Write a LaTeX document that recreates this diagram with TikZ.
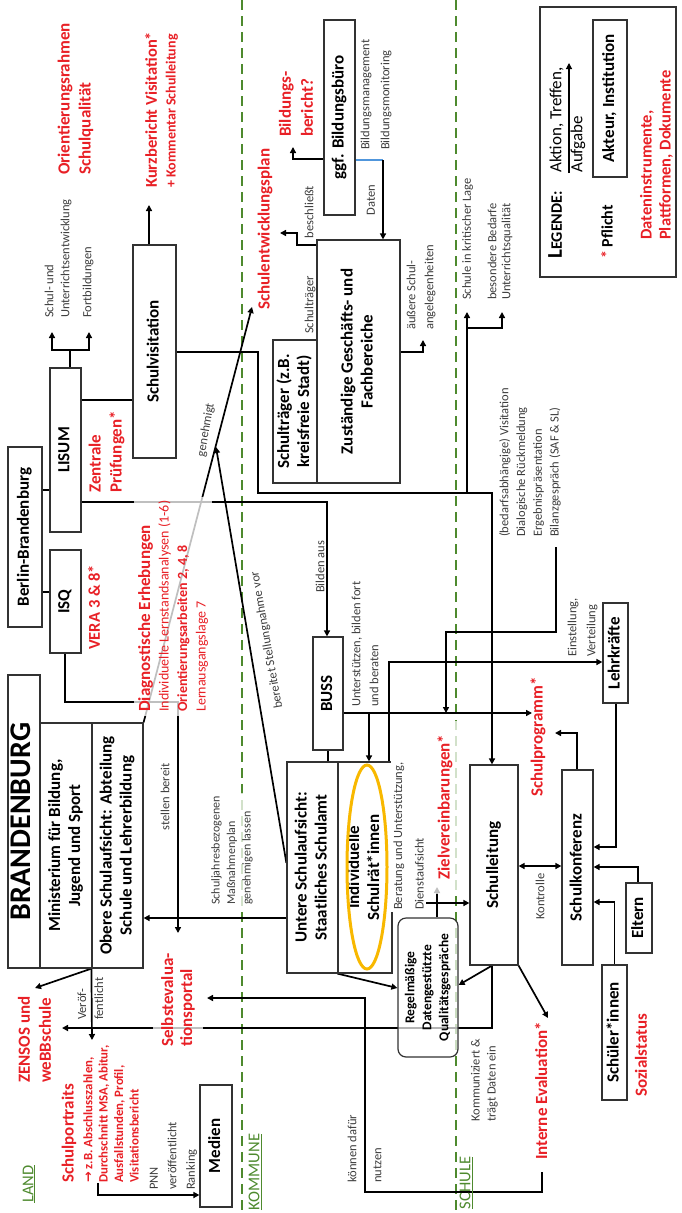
\documentclass[tikz,border=0pt]{standalone}
\usepackage{fontspec}
\setmainfont{Carlito}
\newfontfamily\djv{DejaVu Sans}
\usetikzlibrary{arrows.meta}
\definecolor{myred}{RGB}{232,32,38}
\definecolor{mygreen}{RGB}{78,138,46}
\definecolor{mygray}{RGB}{60,60,60}
\definecolor{myorange}{RGB}{248,184,0}
\definecolor{myblue}{RGB}{80,150,220}
\definecolor{boxline}{RGB}{50,50,50}
\newcommand{\Rot}[1]{\rotatebox{90}{\begin{tabular}{@{}c@{}}#1\end{tabular}}}
\pgfdeclarelayer{background}
\pgfsetlayers{background,main}
\begin{document}
\begin{tikzpicture}[x=1pt,y=-1pt,
  box/.style={draw=boxline,line width=1.2pt,inner sep=0pt,font=\bfseries\fontsize{17}{20}\selectfont},
  lbl/.style={rotate=90,anchor=west,inner sep=0pt,align=left},
  redt/.style={lbl,text=myred,font=\bfseries\fontsize{17}{21}\selectfont},
  gfont/.style={text=mygray,font=\fontsize{12.5}{16}\selectfont,inner sep=0pt,align=left},
  grayt/.style={gfont,rotate=90,anchor=west},
  conn/.style={draw=black,line width=1.7pt},
  arr/.style={conn,-{Triangle[length=6pt,width=6pt]}},
  darr/.style={conn,{Triangle[length=6pt,width=6pt]}-{Triangle[length=6pt,width=6pt]}},
  dashline/.style={draw=mygreen,line width=2.3pt,dash pattern=on 10pt off 6pt},
  fog/.style={fill=white,fill opacity=0.75,text opacity=1},
  region/.style={rotate=90,text=mygreen,font=\fontsize{16.5}{18}\selectfont,inner sep=0pt}]
\useasboundingbox (0,0) rectangle (681,1213);

% ---------- boxes ----------
\node[box,minimum width=32pt,minimum height=293pt] (bbhead) at (24,821.5) {\fontsize{30}{30}\selectfont\Rot{BRANDENBURG}};
\node[box,minimum width=52pt,minimum height=245pt] (min) at (66,845.5) {\Rot{Ministerium für Bildung,\\Jugend und Sport}};
\node[box,minimum width=51pt,minimum height=245pt] (obere) at (117.5,845.5) {\Rot{Obere Schulaufsicht: Abteilung\\Schule und Lehrerbildung}};
\node[box,minimum width=34pt,minimum height=180pt] (bln) at (25,537) {\Rot{Berlin-Brandenburg}};
\node[box,minimum width=31pt,minimum height=164pt] (lisum) at (65.5,450) {\Rot{LISUM}};
\node[box,minimum width=31pt,minimum height=103pt] (isq) at (65.5,601.5) {\Rot{ISQ}};
\node[box,minimum width=43pt,minimum height=213pt] (sv) at (154.5,351.5) {\Rot{Schulvisitation}};
\node[box,minimum width=32pt,minimum height=122pt] (medien) at (216,1146) {\Rot{Medien}};
\node[box,minimum width=31pt,minimum height=195pt] (bbuero) at (339.5,117.5) {\Rot{ggf. Bildungsbüro}};
\node[box,minimum width=44pt,minimum height=143pt] (straeger) at (295,411.5) {\Rot{Schulträger (z.B.\\kreisfreie Stadt)}};
\node[box,minimum width=83pt,minimum height=243pt] (zust) at (358.5,361.5) {\Rot{Zuständige Geschäfts- und\\Fachbereiche}};
\node[box,minimum width=30pt,minimum height=113pt] (buss) at (328,693.5) {\Rot{BUSS}};
\node[box,minimum width=51pt,minimum height=211pt] (untere) at (312.5,867.5) {\Rot{Untere Schulaufsicht:\\Staatliches Schulamt}};
\node[box,minimum width=54pt,minimum height=211pt] (indiv) at (365,867.5) {\Rot{Individuelle\\Schulrät*innen}};
\node[box,rounded corners=8pt,fill=white,fill opacity=0.7,text opacity=1,minimum width=60pt,minimum height=139pt,font=\bfseries\fontsize{13.5}{17}\selectfont] (regel) at (428,987.5) {\Rot{Regelmäßige\\Datengestützte\\Qualitätsgespräche}};
\node[box,minimum width=48pt,minimum height=200pt] (sl) at (494,865) {\Rot{Schulleitung}};
\node[box,minimum width=31pt,minimum height=195pt] (sk) at (577.5,867.5) {\Rot{Schulkonferenz}};
\node[box,minimum width=25pt,minimum height=100pt] (lk) at (615.5,653) {\Rot{Lehrkräfte}};
\node[box,minimum width=26pt,minimum height=70pt] (eltern) at (639,918) {\Rot{Eltern}};
\node[box,minimum width=25pt,minimum height=135pt] (schueler) at (614.5,1032.5) {\Rot{Schüler*innen}};
\node[box,minimum width=136pt,minimum height=270pt] (legend) at (608,142) {};
\node[box,minimum width=34pt,minimum height=157pt] (akteur) at (610,98.5) {\Rot{Akteur, Institution}};

\draw[myorange,line width=3pt] (367,867) ellipse [x radius=20pt,y radius=102pt];

% ---------- connectors ----------
\begin{pgfonlayer}{background}
\draw[dashline] (242,0) -- (242,1213);
\draw[dashline] (456,0) -- (456,1213);
% LISUM top
\draw[conn] (lisum.north -| 70,0) -- (70,350);
\draw[arr] (70,350) -| (52,332);
\draw[arr] (70,350) -| (89,332);
% Berlin-Brandenburg
\draw[conn,line width=1.2pt] (bln.east |- 0,490) -- (lisum.west |- 0,490);
\draw[conn,line width=1.2pt] (bln.east |- 0,592) -- (isq.west |- 0,592);
% LISUM - Schulvisitation
\draw[conn,line width=1.2pt] (lisum.east |- 0,400) -- (sv.west |- 0,400);
\draw[arr] (sv.north -| 149,0) -- (149,205);
% Schulvisitation -> Schulleitung
\draw[arr] (sv.east |- 0,352) -- (258,352) -- (258,493) -- (492,493) -- (sl.north -| 492,0);
\draw[arr] (467,493) -- (467,312);
\draw[arr] (467,328) -- (502,328) -- (502,312);
% LISUM -> BUSS
\draw[arr] (lisum.east |- 0,502) -- (327,502) -- (buss.north -| 327,0);
% ISQ -> Selbstevaluationsportal
\draw[arr] (isq.south -| 65,0) -- (65,702) -- (178,702) -- (178,933);
% genehmigt / Stellungnahme
\draw[arr] (obere.north east) -- (252,307);
\draw[arr] (untere.west |- 0,863) -- (216,447);
\draw[arr] (untere.west |- 0,918) -- (obere.east |- 0,918);
% veroeffentlicht
\draw[arr] (obere.south west) -- (35,988);
\draw[arr] (obere.south west) -- (92,1040);
\draw[arr] (98,1183) -- (98,1195) -- (medien.west |- 0,1195);
% Bildungsbuero
\draw[arr] (bbuero.west |- 0,159) -- (293,159) -- (293,147);
\draw[myblue,line width=1.7pt] (bbuero.east |- 0,160) -- (383,160);
\draw[arr] (383,160) -- (zust.north -| 383,0);
\draw[arr] (zust.west |- 0,245) -- (297,245) -- (297,233) -- (280,233);
\draw[arr] (zust.east |- 0,352) -- (423,352) -- (423,340);
% BUSS
\draw[conn] (buss.south) -- (buss.south |- untere.north);
\draw[arr] (buss.east |- 0,713) -- (532,713);
\draw[arr] (369,713) -- (indiv.north -| 369,0);
\draw[arr] (556,547) -- (556,632) -- (446,632) -- (446,713);
\draw[arr] (indiv.north -| 389,0) -- (389,662) -- (lk.west |- 0,662);
% Schule
\draw[darr] (sl.east |- 0,866) -- (sk.west |- 0,866);
\draw[arr] (sk.north -| 577,0) -- (577,733) -- (555,733);
\draw[arr] (lk.south -| 616,0) -- (616,847) -- (sk.east |- 0,847);
\draw[arr] (eltern.north -| 638,0) -- (638,867) -- (sk.east |- 0,867);
\draw[arr] (schueler.north) -- (614.5,902) -- (sk.east |- 0,902);
\draw[arr] (indiv.east |- 0,903) -- (sl.west |- 0,903);
\draw[arr] (regel.north -| 437,0) -- (437,887);
\draw[arr] (indiv.south west) -- (regel.west |- 0,988);
\draw[arr] (sl.south -| 492,0) -- (regel.east |- 0,985);
\draw[arr] (sl.south east) -- (548,1018);
\draw[arr] (sl.south -| 492,0) -- (492,1028) -- (62,1028);
\draw[arr] (542,1172) -- (542,1192) -- (365,1192) -- (365,998) -- (207,998);
% legend arrow
\draw[arr,line width=1.2pt] (569,173) -- (569,63);
\end{pgfonlayer}

% ---------- labels column LAND ----------
\node[redt] (orient) at (75.5,175) {Orientierungsrahmen\\Schulqualität};
\node[redt,font=\bfseries\fontsize{16.5}{20}\selectfont] (kurz) at (151,188) {Kurzbericht Visitation*};
\node[redt,font=\bfseries\fontsize{14}{18}\selectfont] (komm) at (172,188) {+ Kommentar Schulleitung};
\node[grayt] (schulund) at (58,318) {Schul- und\\Unterrichtsentwicklung};
\node[grayt] (fortb) at (88,318) {Fortbildungen};
\node[redt] (zentrale) at (106.5,493) {Zentrale\\Prüfungen*};
\node[redt,font=\bfseries\fontsize{16.5}{20}\selectfont] (vera) at (94,650) {VERA 3 \& 8*};
\node[redt,fog,inner sep=4pt,font=\fontsize{14}{18.5}\selectfont] (diag) at (173,716) {{\bfseries\fontsize{17}{18.5}\selectfont Diagnostische Erhebungen}\\Individuelle Lernstandsanalysen (1-6)\\{\bfseries Orientierungsarbeiten 2, 4, 8}\\Lernausgangslage 7};
\node[gfont,rotate=80] (genehmigt) at (206,430) {genehmigt};
\node[gfont,rotate=100] (bereitet) at (267,640) {bereitet Stellungnahme vor};
\node[gfont,rotate=90] (stellen) at (165,797) {stellen bereit};
\node[grayt,fog,inner sep=3pt,font=\fontsize{12}{15.5}\selectfont] (schuljahr) at (232,908) {Schuljahresbezogenen\\Maßnahmenplan\\genehmigen lassen};
\node[grayt,font=\fontsize{12.5}{17}\selectfont] (veroef) at (90.5,1020) {Veröf-\\fentlicht};
\node[redt] (zensos) at (34.5,1083) {ZENSOS und\\weBBschule};
\node[redt] (portr) at (69,1183) {Schulportraits};
\node[redt,font=\bfseries\fontsize{12.8}{15.4}\selectfont] (portrd) at (111,1183) {{\djv →} z.B. Abschlusszahlen,\\Durchschnitt MSA, Abitur,\\Ausfallstunden, Profil,\\Visitationsbericht};
\node[redt,fog,inner sep=8pt,font=\bfseries\fontsize{17}{19}\selectfont] (selbst) at (178,1055) {Selbstevalua-\\tionsportal};
\node[grayt,font=\fontsize{12.5}{18.5}\selectfont] (pnn) at (173.5,1190) {PNN\\veröffentlicht\\Ranking};
\node[region] (land) at (29,1184) {\underline{LAND}};

% ---------- labels column KOMMUNE ----------
\node[redt] (sep) at (265,310) {Schulentwicklungsplan};
\node[redt,font=\bfseries\fontsize{17}{22}\selectfont] (bericht) at (296,137) {Bildungs-\\bericht?};
\node[grayt,font=\fontsize{12.5}{20}\selectfont] (bbm) at (376,150) {Bildungsmanagement\\Bildungsmonitoring};
\node[gfont,rotate=90] (daten) at (371,200) {Daten};
\node[gfont,rotate=90] (beschl) at (309,212) {beschließt};
\node[gfont,rotate=90] (stlbl) at (310,305) {Schulträger};
\node[grayt,font=\fontsize{12.5}{18}\selectfont] (aeuss) at (421,330) {äußere Schul-\\angelegenheiten};
\node[grayt] (bildenaus) at (320,593) {Bilden aus};
\node[grayt,font=\fontsize{12.5}{18}\selectfont] (unterst) at (365,707) {Unterstützen, bilden fort\\und beraten};
\node[grayt,fill=white,inner sep=2pt,font=\fontsize{12.5}{21.5}\selectfont] (beratung) at (408.5,912) {Beratung und Unterstützung,\\Dienstaufsicht};
\node[grayt,font=\fontsize{12.5}{25}\selectfont] (koennen) at (364.5,1183) {können dafür\\nutzen};
\node[region] (kommune) at (255,1172) {\underline{KOMMUNE}};

% ---------- labels column SCHULE ----------
\node[grayt] (kritisch) at (467.5,300) {Schule in kritischer Lage};
\node[grayt,font=\fontsize{12.5}{14}\selectfont] (bedarfe) at (500,300) {besondere Bedarfe\\Unterrichtsqualität};
\node[grayt,font=\fontsize{12.5}{16.7}\selectfont] (bedarfsv) at (530,537) {(bedarfsabhängige) Visitation\\Dialogische Rückmeldung\\Ergebnispräsentation\\Bilanzgespräch (SAF \& SL)};
\node[grayt,font=\fontsize{12.5}{19}\selectfont] (einst) at (582.5,657) {Einstellung,\\Verteilung};
\node[redt] (schulprog) at (538,797) {Schulprogramm*};
\node[redt,fog,inner xsep=14pt,inner ysep=8pt] (ziel) at (445,894) {Zielvereinbarungen*};
\node[grayt] (kontrolle) at (540,920) {Kontrolle};
\node[grayt] (kommun) at (484.5,1122) {Kommuniziert \&\\trägt Daten ein};
\node[redt] (intev) at (541,1160) {Interne Evaluation*};
\node[redt] (sozial) at (641,1097) {Sozialstatus};
\node[region] (schule) at (466,1183) {\underline{SCHULE}};

% ---------- legend ----------
\node[rotate=90,inner sep=0pt,font=\bfseries] (legende) at (555,225) {{\fontsize{21}{21}\selectfont L}{\fontsize{16}{16}\selectfont EGENDE:}};
\node[lbl,font=\fontsize{17}{21}\selectfont] (aktion) at (567.5,173) {Aktion, Treffen,\\Aufgabe};
\node[rotate=90,inner sep=0pt,font=\bfseries\fontsize{16}{16}\selectfont] (pflicht) at (607,232) {\textcolor{myred}{*} Pflicht};
\node[redt,font=\bfseries\fontsize{16.5}{19}\selectfont] (datinst) at (656.5,240) {Dateninstrumente,\\Plattformen, Dokumente};
\end{tikzpicture}
\end{document}
